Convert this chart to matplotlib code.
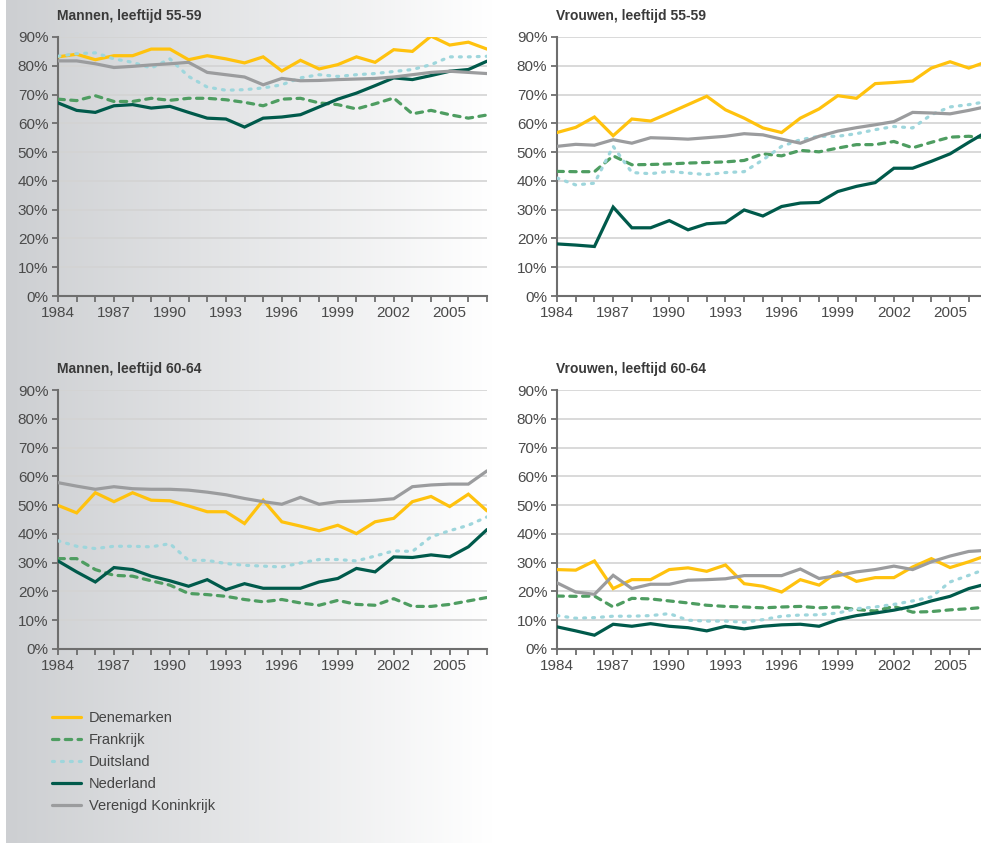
import numpy as np
import matplotlib
matplotlib.use("Agg")
import matplotlib.pyplot as plt
from matplotlib.ticker import MultipleLocator, FuncFormatter

plt.rcParams['font.family'] = ['Liberation Sans Narrow', 'Liberation Sans', 'DejaVu Sans']

years = list(range(1984, 2008))

countries = ["Denemarken", "Frankrijk", "Duitsland", "Nederland", "Verenigd Koninkrijk"]

# Mannen 55-59
m55_dk = [83.1, 84.0, 82.1, 83.5, 83.5, 85.8, 85.8, 82.1, 83.5, 82.4, 81.0, 83.1,
          78.2, 81.9, 78.9, 80.4, 83.1, 81.2, 85.6, 85.0, 90.3, 87.2, 88.2, 85.8]
m55_fr = [68.4, 67.9, 69.6, 67.6, 67.6, 68.7, 68.0, 68.7, 68.7, 68.2, 67.3, 66.1,
          68.4, 68.7, 67.1, 66.5, 65.0, 66.8, 68.8, 63.3, 64.5, 63.0, 61.8, 62.9]
m55_de = [83.3, 84.2, 84.5, 82.4, 81.2, 79.2, 82.4, 76.3, 72.6, 71.5, 71.7, 72.3,
          73.4, 75.8, 76.9, 76.3, 76.9, 77.3, 78.0, 78.7, 80.4, 83.1, 83.1, 83.3]
m55_nl = [67.1, 64.5, 63.8, 66.1, 66.5, 65.3, 65.9, 63.8, 61.8, 61.5, 58.7, 61.8,
          62.2, 63.0, 65.7, 68.4, 70.5, 73.1, 75.8, 75.2, 76.6, 78.1, 78.7, 81.6]
m55_uk = [81.7, 81.7, 80.7, 79.4, 79.8, 80.3, 80.7, 81.2, 77.7, 76.9, 76.1, 73.4,
          75.6, 74.8, 74.9, 75.2, 75.4, 75.6, 76.1, 76.9, 77.7, 78.1, 77.7, 77.3]

# Vrouwen 55-59
v55_dk = [56.8, 58.6, 62.2, 55.7, 61.5, 60.8, 63.6, 66.5, 69.4, 64.7, 61.8, 58.4,
          56.8, 61.8, 65.0, 69.6, 68.7, 73.8, 74.2, 74.7, 79.2, 81.4, 79.2, 81.5]
v55_fr = [43.3, 43.2, 43.2, 48.7, 45.6, 45.7, 45.9, 46.2, 46.4, 46.6, 47.1, 49.4,
          48.7, 50.6, 50.1, 51.4, 52.6, 52.6, 53.7, 51.5, 53.4, 55.2, 55.5, 54.9]
v55_de = [41.0, 38.6, 39.2, 52.0, 42.9, 42.5, 43.3, 42.7, 42.2, 42.9, 43.2, 47.3,
          52.0, 54.3, 55.5, 55.5, 56.4, 57.8, 58.9, 58.4, 63.0, 65.7, 66.5, 67.6]
v55_nl = [18.1, 17.7, 17.2, 30.9, 23.7, 23.7, 26.2, 23.0, 25.1, 25.5, 29.9, 27.8,
          31.1, 32.3, 32.5, 36.3, 38.1, 39.4, 44.4, 44.4, 46.8, 49.4, 53.4, 57.2]
v55_uk = [52.0, 52.7, 52.4, 54.3, 53.1, 55.0, 54.8, 54.5, 55.0, 55.5, 56.4, 56.0,
          54.5, 53.1, 55.5, 57.3, 58.5, 59.5, 60.6, 63.8, 63.6, 63.3, 64.5, 65.9]

# Mannen 60-64
m60_dk = [49.9, 47.3, 54.3, 51.2, 54.3, 51.7, 51.5, 49.7, 47.7, 47.7, 43.6, 51.7,
          44.2, 42.7, 41.1, 43.0, 40.1, 44.2, 45.4, 51.2, 53.0, 49.5, 53.8, 48.0]
m60_fr = [31.4, 31.4, 27.6, 25.6, 25.3, 23.7, 22.2, 19.3, 18.9, 18.3, 17.2, 16.4,
          17.2, 16.0, 15.2, 16.9, 15.5, 15.2, 17.5, 14.8, 14.8, 15.5, 16.7, 17.9]
m60_de = [37.6, 35.7, 34.9, 35.7, 35.7, 35.5, 36.6, 30.8, 30.8, 29.7, 29.1, 28.8,
          28.5, 29.9, 31.1, 31.1, 30.6, 32.3, 34.1, 33.9, 39.0, 41.1, 43.0, 45.9]
m60_nl = [30.6, 26.8, 23.3, 28.3, 27.6, 25.3, 23.7, 21.8, 24.1, 20.6, 22.7, 21.1,
          21.1, 21.1, 23.3, 24.5, 28.0, 26.8, 32.0, 31.8, 32.7, 32.0, 35.5, 41.5]
m60_uk = [57.8, 56.6, 55.5, 56.4, 55.7, 55.5, 55.5, 55.2, 54.5, 53.6, 52.3, 51.2,
          50.3, 52.7, 50.3, 51.2, 51.4, 51.7, 52.2, 56.4, 57.0, 57.3, 57.3, 61.9]

# Vrouwen 60-64
v60_dk = [27.6, 27.4, 30.6, 21.0, 24.1, 24.1, 27.6, 28.2, 27.0, 29.2, 22.7, 21.8,
          19.8, 24.1, 22.2, 26.8, 23.5, 24.8, 24.8, 28.5, 31.4, 28.3, 30.3, 32.6]
v60_fr = [18.4, 18.3, 18.4, 14.6, 17.6, 17.4, 16.7, 16.0, 15.2, 14.8, 14.6, 14.3,
          14.6, 14.8, 14.3, 14.6, 13.7, 13.2, 14.8, 12.8, 13.0, 13.6, 14.0, 14.6]
v60_de = [11.6, 10.7, 10.9, 11.4, 11.4, 11.6, 12.3, 10.0, 9.7, 9.7, 9.3, 10.2,
          11.4, 11.8, 11.9, 12.5, 14.0, 14.6, 15.5, 16.7, 18.1, 23.3, 25.6, 28.0]
v60_nl = [7.7, 6.3, 4.8, 8.6, 7.9, 8.8, 7.9, 7.4, 6.3, 7.9, 7.0, 7.9,
          8.4, 8.6, 7.9, 10.2, 11.6, 12.5, 13.5, 14.8, 16.7, 18.3, 21.0, 22.7]
v60_uk = [23.0, 19.8, 19.0, 25.6, 21.0, 22.5, 22.5, 23.9, 24.1, 24.4, 25.5, 25.5,
          25.5, 27.8, 24.5, 25.5, 26.8, 27.6, 28.8, 27.6, 30.3, 32.3, 33.9, 34.3]

panels = [
    ("Mannen, leeftijd 55-59", [m55_dk, m55_fr, m55_de, m55_nl, m55_uk]),
    ("Vrouwen, leeftijd 55-59", [v55_dk, v55_fr, v55_de, v55_nl, v55_uk]),
    ("Mannen, leeftijd 60-64", [m60_dk, m60_fr, m60_de, m60_nl, m60_uk]),
    ("Vrouwen, leeftijd 60-64", [v60_dk, v60_fr, v60_de, v60_nl, v60_uk]),
]

colors = ["#FFC20E", "#4E9D61", "#9ED6DC", "#005A4B", "#9B9C9E"]
dashes = [None, (2.0, 2.0), (0.6, 2.2), None, None]

W, H = 981, 843
fig = plt.figure(figsize=(W / 100, H / 100), dpi=100)

# grey-to-white background on the left half
bg = fig.add_axes([6 / W, 0, 486 / W, 1], zorder=-10)
grad = np.linspace(0, 1, 256)[None, :]
bg.imshow(grad, aspect="auto", cmap=matplotlib.colors.LinearSegmentedColormap.from_list(
    "g", ["#cdcfd2", "#ffffff"]), extent=[0, 1, 0, 1])
bg.axis("off")

def px_axes(x0, x1, ytop, ybot):
    return fig.add_axes([x0 / W, 1 - ybot / H, (x1 - x0) / W, (ybot - ytop) / H])

boxes = [
    (58, 487, 37, 296),
    (557, 987.5, 37, 296),
    (58, 487, 390, 649),
    (557, 987.5, 390, 649),
]
title_pos = [(57, 16), (556, 16), (57, 369), (556, 369)]

tick_c = "#6e6e6e"
lab_c = "#4a4a4a"

handles = []
for i, ((title, series), box, tp) in enumerate(zip(panels, boxes, title_pos)):
    ax = px_axes(*box)
    ax.patch.set_alpha(0)
    for name, vals, c, d in zip(countries, series, colors, dashes):
        ln, = ax.plot(years, vals, color=c, lw=2.3, solid_capstyle="round",
                      dash_capstyle="round", solid_joinstyle="miter", label=name,
                      clip_on=True, zorder=3)
        if d is not None:
            ln.set_dashes(d)
        if i == 0:
            handles.append(ln)
    ax.set_xlim(1984, 2007)
    ax.set_ylim(0, 90)
    ax.yaxis.set_major_locator(MultipleLocator(10))
    ax.yaxis.set_major_formatter(FuncFormatter(lambda v, p: "%d%%" % round(v)))
    ax.set_xticks(list(range(1984, 2007, 3)))
    ax.xaxis.set_minor_locator(MultipleLocator(1))
    ax.grid(axis="y", color="#d3d3d3", lw=1.2, zorder=1)
    for s in ["top", "right"]:
        ax.spines[s].set_visible(False)
    for s in ["left", "bottom"]:
        ax.spines[s].set_color(tick_c)
        ax.spines[s].set_linewidth(1.5)
    ax.tick_params(axis="both", which="both", direction="out", color=tick_c,
                   width=1.3, labelcolor=lab_c, labelsize=11)
    ax.tick_params(axis="x", which="both", length=4.5, pad=3)
    ax.tick_params(axis="y", length=4, pad=3)
    fig.text(tp[0] / W, 1 - tp[1] / H, title, fontsize=10, fontweight="bold",
             color="#3a3a3a", ha="left", va="center")

fig.legend(handles=handles, labels=countries, loc="upper left",
           bbox_to_anchor=(52 / W, 1 - 711 / H), frameon=False, fontsize=10.5,
           handlelength=2.0, handletextpad=0.55, labelspacing=0.55,
           borderpad=0, borderaxespad=0, labelcolor="#444444")

fig.savefig("out.png", dpi=100)
